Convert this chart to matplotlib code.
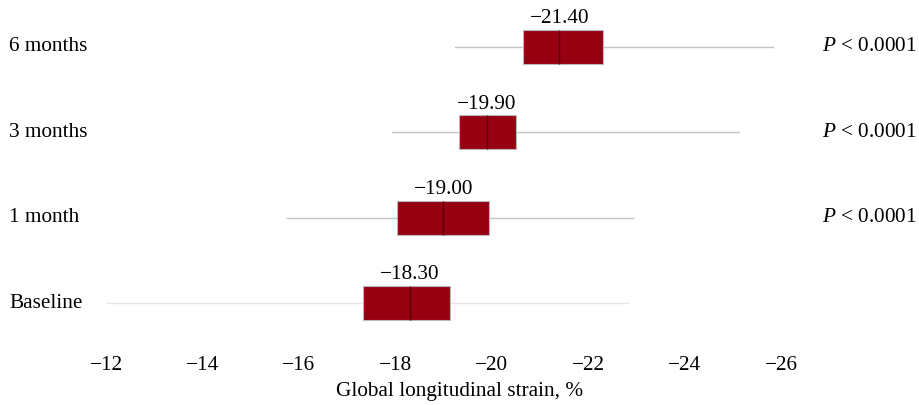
import numpy as np
import matplotlib.pyplot as plt
from matplotlib.transforms import blended_transform_factory

plt.rcParams['font.family'] = ['Liberation Serif', 'DejaVu Serif']
plt.rcParams['mathtext.fontset'] = 'custom'
plt.rcParams['mathtext.rm'] = 'Liberation Serif'
plt.rcParams['mathtext.it'] = 'Liberation Serif:italic'

# GLS by time point (bottom to top)
groups = ['Baseline', '1 month', '3 months', '6 months']
medians = [-18.30, -19.00, -19.90, -21.40]
q1 = [-17.33, -18.04, -19.32, -20.65]
q3 = [-19.14, -19.95, -20.51, -22.31]
wlo = [-12.02, -15.76, -17.93, -19.24]
whi = [-22.83, -22.93, -25.13, -25.84]
pvals = ['', r'$P$ < 0.0001', r'$P$ < 0.0001', r'$P$ < 0.0001']
xticks = [-12, -14, -16, -18, -20, -22, -24, -26]

fs = 15.3

fig = plt.figure(figsize=(9.19, 4.05), dpi=100)
ax = fig.add_axes([106/919, 0.1457, (781-106)/919, 0.844])

stats = []
for i, g in enumerate(groups):
    stats.append(dict(label=g, med=medians[i], q1=q1[i], q3=q3[i],
                      whislo=wlo[i], whishi=whi[i], fliers=[]))

pos = np.arange(len(groups))
bp = ax.bxp(stats, positions=pos, orientation='horizontal', widths=0.40,
            showcaps=False, showfliers=False, patch_artist=True,
            boxprops=dict(facecolor='#960010', edgecolor='#b8b8b8', linewidth=0.8),
            medianprops=dict(color='#5a0008', linewidth=1.0),
            whiskerprops=dict(color='#c4c4c4', linewidth=1.0))
# baseline whiskers are fainter
for w in bp['whiskers'][:2]:
    w.set_color('#e6e6e6')
for b in bp['boxes']:
    b.set_zorder(3)
for m in bp['medians']:
    m.set_zorder(4)

row_tf = blended_transform_factory(fig.transFigure, ax.transData)
for i in pos:
    ax.text(medians[i], i + 0.22, '\u2212%.2f' % abs(medians[i]), ha='center',
            va='bottom', fontsize=fs)
    ax.text(9/919, i, groups[i], transform=row_tf,
            ha='left', va='center', fontsize=fs)
    if pvals[i]:
        ax.text(822/919, i, pvals[i], transform=row_tf,
                ha='left', va='center', fontsize=fs)

ax.set_xlim(-12, -26)
ax.set_ylim(-0.5, 3.5)
ax.set_xticks(xticks)
ax.set_xticklabels(['\u2212%d' % abs(t) for t in xticks], fontsize=fs)
ax.set_yticks([])
ax.tick_params(axis='x', length=0, pad=7)
for s in ax.spines.values():
    s.set_visible(False)
ax.set_xlabel('Global longitudinal strain, %', fontsize=fs)
ax.xaxis.set_label_coords(0.524, -0.105)

fig.savefig('out.png', dpi=100, facecolor='white')
